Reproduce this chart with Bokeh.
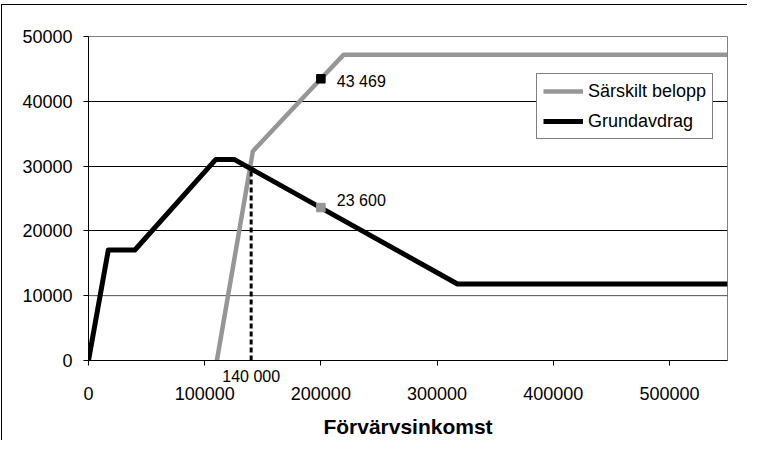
from bokeh.plotting import figure
from bokeh.models import (Range1d, FixedTicker, NumeralTickFormatter, Legend, LegendItem, Span,
                          LinearAxis)
from bokeh.core.properties import value
from bokeh.embed import file_html
from bokeh.resources import INLINE

# ---- data ----
grund_x = [0, 17047, 39897, 109616, 125333, 317564, 550000]
grund_y = [0, 17047, 17047, 31031, 31031, 11808, 11808]

sars_x = [110500, 141500, 200000, 219700, 550000]
sars_y = [0, 32300, 43469, 47200, 47200]

dash_x = [140000, 140000]
dash_y = [0, 29564]
dash_text = "140 000"

mark_x = [200000, 200000]
mark_y = [43469, 23600]
mark_colors = ["black", "#969696"]
mark_text = ["43 469", "23 600"]

x_ticks = [0, 100000, 200000, 300000, 400000, 500000]
y_ticks = [0, 10000, 20000, 30000, 40000, 50000]
x_title = "Förvärvsinkomst"
series_names = ["Särskilt belopp", "Grundavdrag"]

FONT = "Liberation Sans"

p = figure(frame_width=639, frame_height=324,
           x_range=Range1d(0, 550000), y_range=Range1d(0, 50000),
           x_axis_location=None,
           output_backend="svg", toolbar_location=None,
           min_border_left=86, min_border_top=31, min_border_right=20, min_border_bottom=70)
p.styles = {"margin-left": "1px", "margin-top": "4px",
            "border-left": "1px solid black", "border-top": "1px solid black"}

p.outline_line_color = "#808080"
p.outline_line_width = 1
p.background_fill_color = "white"
p.border_fill_color = "white"

# grid
p.xgrid.visible = False
p.ygrid.ticker = FixedTicker(ticks=[10000, 20000, 30000, 40000])
p.ygrid.grid_line_color = "black"
p.ygrid.grid_line_width = 1
p.add_layout(Span(location=10000, dimension="width", line_color="#808080", line_width=1, level="underlay"))

# y axis
ya = p.yaxis[0]
ya.ticker = FixedTicker(ticks=y_ticks)
ya.formatter = NumeralTickFormatter(format="0")
ya.axis_line_color = "black"
ya.major_tick_line_color = "black"
ya.major_tick_out = 5
ya.major_tick_in = 0
ya.minor_tick_line_color = None
ya.major_label_text_font = FONT
ya.major_label_text_font_size = "18px"
ya.major_label_text_color = "black"
ya.major_label_standoff = 11

# x axis A: axis line, tick marks, and the 140 000 annotation
xa = LinearAxis(ticker=FixedTicker(ticks=[dash_x[0]], minor_ticks=x_ticks),
                major_label_overrides={dash_x[0]: dash_text})
xa.axis_line_color = "black"
xa.major_tick_line_color = None
xa.major_tick_out = 0
xa.major_tick_in = 0
xa.minor_tick_line_color = "black"
xa.minor_tick_out = 5
xa.minor_tick_in = 0
xa.major_label_text_font = FONT
xa.major_label_text_font_size = "16px"
xa.major_label_text_color = "black"
xa.major_label_standoff = 2
xa.major_label_text_align = "center"
xa.major_label_text_baseline = "top"

# x axis B: tick labels and title
xb = LinearAxis(ticker=FixedTicker(ticks=x_ticks), formatter=NumeralTickFormatter(format="0"))
xb.axis_line_color = None
xb.major_tick_line_color = None
xb.major_tick_out = 0
xb.major_tick_in = 0
xb.minor_tick_line_color = None
xb.major_label_text_font = FONT
xb.major_label_text_font_size = "18px"
xb.major_label_text_color = "black"
xb.major_label_standoff = -1
xb.axis_label = x_title
xb.axis_label_text_font = FONT
xb.axis_label_text_font_style = "bold"
xb.axis_label_text_font_size = "21px"
xb.axis_label_text_color = "black"
xb.axis_label_standoff = 12

p.add_layout(xa, "below")
p.add_layout(xb, "below")

# series
r_sars = p.line(sars_x, sars_y, line_color="#969696", line_width=4.5, line_join="round")
r_grund = p.line(grund_x, grund_y, line_color="black", line_width=5, line_join="round")

# dashed marker line
p.line(dash_x, dash_y, line_color="black", line_width=3, line_dash="5 3")

# markers
p.scatter(mark_x, mark_y, marker="square", size=8.5, fill_color=mark_colors, line_color=mark_colors)

p.text(x=[mark_x[0]], y=[mark_y[0]], text=[mark_text[0]], text_font=value(FONT), text_font_size="16px",
       text_align="left", text_baseline="middle", x_offset=16, y_offset=3, text_color="black")
p.text(x=[mark_x[1]], y=[mark_y[1]], text=[mark_text[1]], text_font=value(FONT), text_font_size="16px",
       text_align="left", text_baseline="middle", x_offset=16, y_offset=-7, text_color="black")

legend = Legend(items=[LegendItem(label=series_names[0], renderers=[r_sars]),
                       LegendItem(label=series_names[1], renderers=[r_grund])],
                location=(448, 221), margin=0, padding=6, spacing=8,
                glyph_width=40, glyph_height=22, label_height=22, label_standoff=5,
                label_text_font=FONT, label_text_font_size="18px", label_text_color="black",
                border_line_color="black", border_line_width=1,
                background_fill_color="white", background_fill_alpha=1)
p.add_layout(legend)

open("out.html", "w").write(file_html(p, INLINE))
